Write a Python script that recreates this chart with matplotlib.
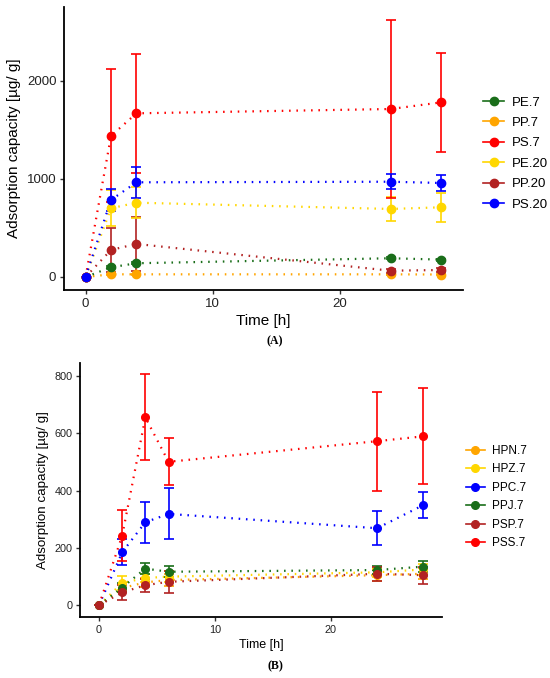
import matplotlib
matplotlib.use("Agg")
import matplotlib.pyplot as plt
from matplotlib.lines import Line2D

plt.rcParams['font.family'] = ['Liberation Sans', 'DejaVu Sans']

# ---------- Panel A data ----------
time_a = [0, 2, 4, 24, 28]
series_a = ["PE.7", "PP.7", "PS.7", "PE.20", "PP.20", "PS.20"]
colors_a = ["#1a6e1a", "#ffa500", "#ff0000", "#ffd700", "#b22222", "#0000ff"]
mean_pe7 = [0, 99, 140, 191, 177]
err_pe7 = [0, 10, 12, 12, 10]
mean_pp7 = [0, 27, 27, 27, 25]
err_pp7 = [0, 5, 5, 5, 5]
mean_ps7 = [0, 1440, 1670, 1714, 1782]
err_ps7 = [0, 680, 610, 910, 505]
mean_pe20 = [0, 701, 758, 694, 711]
err_pe20 = [0, 185, 160, 118, 145]
mean_pp20 = [0, 276, 337, 64, 71]
err_pp20 = [0, 225, 278, 20, 20]
mean_ps20 = [0, 786, 966, 972, 959]
err_ps20 = [0, 112, 160, 76, 78]
means_a = [mean_pe7, mean_pp7, mean_ps7, mean_pe20, mean_pp20, mean_ps20]
errs_a = [err_pe7, err_pp7, err_ps7, err_pe20, err_pp20, err_ps20]
yticks_a = [0, 1000, 2000]
xticks = [0, 10, 20]

# ---------- Panel B data ----------
time_b = [0, 2, 4, 6, 24, 28]
series_b = ["HPN.7", "HPZ.7", "PPC.7", "PPJ.7", "PSP.7", "PSS.7"]
colors_b = ["#ffa500", "#ffd700", "#0000ff", "#1a6e1a", "#b22222", "#ff0000"]
mean_hpn = [0, 60, 80, 88, 105, 110]
err_hpn = [0, 15, 15, 20, 20, 20]
mean_hpz = [0, 78, 95, 100, 115, 125]
err_hpz = [0, 25, 15, 20, 15, 20]
mean_ppc = [0, 185, 290, 319, 269, 350]
err_ppc = [0, 45, 72, 89, 60, 44]
mean_ppj = [0, 62, 128, 117, 123, 135]
err_ppj = [0, 15, 18, 20, 15, 20]
mean_psp = [0, 45, 70, 82, 110, 105]
err_psp = [0, 25, 22, 38, 25, 30]
mean_pss = [0, 243, 656, 501, 573, 590]
err_pss = [0, 88, 150, 82, 173, 168]
means_b = [mean_hpn, mean_hpz, mean_ppc, mean_ppj, mean_psp, mean_pss]
errs_b = [err_hpn, err_hpz, err_ppc, err_ppj, err_psp, err_pss]
yticks_b = [0, 200, 400, 600, 800]

W, H = 550, 678
fig = plt.figure(figsize=(W / 100, H / 100), dpi=100)

def px_axes(l, t, r, b):
    return fig.add_axes([l / W, 1 - b / H, (r - l) / W, (b - t) / H])

def style(ax, fs_tick, fs_xlab, fs_ylab):
    for s in ["top", "right"]:
        ax.spines[s].set_visible(False)
    for s in ["left", "bottom"]:
        ax.spines[s].set_linewidth(1.3)
        ax.spines[s].set_color("black")
    ax.tick_params(direction="out", length=3, width=1.0, labelsize=fs_tick,
                   colors="#333333", labelcolor="#222222", pad=2.5)
    ax.set_xlabel("Time [h]", fontsize=fs_xlab, labelpad=3)
    ax.set_ylabel("Adsorption capacity [µg/ g]", fontsize=fs_ylab)

def draw(ax, t, means, errs, colors, order, ms, cap):
    for i in order:
        ax.errorbar(t, means[i], yerr=errs[i], color=colors[i], ecolor=colors[i],
                    elinewidth=1.2, capsize=cap, capthick=1.2, fmt="o", ms=ms,
                    linestyle="none", zorder=3)
        ax.plot(t, means[i], color=colors[i], lw=1.6, linestyle=(0, (0.7, 2.6)),
                dash_capstyle="butt", zorder=2)

# Panel A
axA = px_axes(64, 7, 463, 290)
draw(axA, time_a, means_a, errs_a, colors_a, [1, 0, 4, 3, 2, 5], 6, 3.5)
axA.set_xlim(-1.7, 29.7)
axA.set_ylim(-133, 2755)
axA.set_xticks(xticks)
axA.set_yticks(yticks_a)
style(axA, 9.5, 11, 11)
handlesA = [Line2D([0], [0], color=c, marker="o", ms=6, lw=1.2) for c in colors_a]
axA.legend(handlesA, series_a, loc="upper left", bbox_to_anchor=(478 / W, 1 - 91 / H),
           bbox_transform=fig.transFigure, frameon=False, fontsize=9.5,
           handlelength=1.6, handletextpad=0.6, labelspacing=0.62, borderaxespad=0)
fig.text(275 / W, 1 - 341 / H, "(A)", family="Liberation Serif", fontsize=8.5,
         fontweight="bold", ha="center", va="center")

# Panel B
axB = px_axes(80, 363, 442, 617)
draw(axB, time_b, means_b, errs_b, colors_b, [2, 5, 0, 1, 3, 4], 5.5, 3.5)
axB.set_xlim(-1.64, 29.6)
axB.set_ylim(-41, 846)
axB.set_xticks(xticks)
axB.set_yticks(yticks_b)
style(axB, 7.8, 9, 9.6)
handlesB = [Line2D([0], [0], color=c, marker="o", ms=5.5, lw=1.2) for c in colors_b]
axB.legend(handlesB, series_b, loc="upper left", bbox_to_anchor=(461 / W, 1 - 440 / H),
           bbox_transform=fig.transFigure, frameon=False, fontsize=8.5,
           handlelength=1.6, handletextpad=0.6, labelspacing=0.55, borderaxespad=0)
fig.text(275 / W, 1 - 666 / H, "(B)", family="Liberation Serif", fontsize=8.5,
         fontweight="bold", ha="center", va="center")

fig.savefig("out.png", dpi=100)
